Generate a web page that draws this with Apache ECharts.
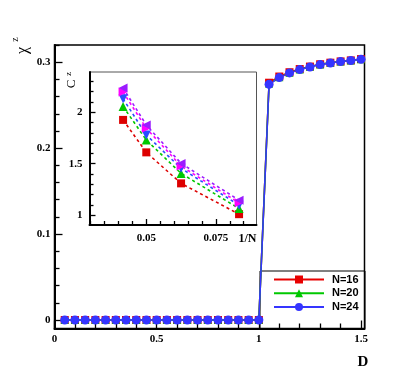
<!DOCTYPE html>
<html><head><meta charset="utf-8">
<script src="https://cdn.jsdelivr.net/npm/echarts@6/dist/echarts.min.js"></script>
<style>html,body{margin:0;padding:0;background:#fff}#c{width:415px;height:370px}</style>
</head><body><div id="c"></div>
<script>
// ---- main chart data ----
const D = [0.05,0.1,0.15,0.2,0.25,0.3,0.35,0.4,0.45,0.5,0.55,0.6,0.65,0.7,0.75,0.8,0.85,0.9,0.95,1.0,
           1.05,1.1,1.15,1.2,1.25,1.3,1.35,1.4,1.45,1.5];
const chiN16 = [0,0,0,0,0,0,0,0,0,0,0,0,0,0,0,0,0,0,0,0,
                0.2762,0.2834,0.2884,0.2921,0.2950,0.2977,0.2995,0.3010,0.3022,0.3037];
const chiN20 = [0,0,0,0,0,0,0,0,0,0,0,0,0,0,0,0,0,0,0,0,
                0.2750,0.2826,0.2879,0.2917,0.2947,0.2975,0.2993,0.3009,0.3021,0.3036];
const chiN24 = [0,0,0,0,0,0,0,0,0,0,0,0,0,0,0,0,0,0,0,0,
                0.2744,0.2822,0.2876,0.2915,0.2945,0.2973,0.2992,0.3008,0.3020,0.3035];
const seriesNames = ['N=16','N=20','N=24'];

// ---- inset data ----
const invN = [0.041667, 0.05, 0.0625, 0.083333];
const cRed     = [1.925, 1.610, 1.309, 1.010];
const cGreen   = [2.055, 1.730, 1.406, 1.065];
const cBlue    = [2.130, 1.779, 1.455, 1.097];
const cMagenta = [2.195, 1.844, 1.477, 1.120];
const cPurple  = [2.234, 1.876, 1.503, 1.146];

// ---- ticks ----
const mainXTicks = [0, 0.5, 1, 1.5];
const mainYTicks = [0, 0.1, 0.2, 0.3];
const insetXTicks = [0.05, 0.075];
const insetYTicks = [1, 1.5, 2];

function steps(a, b, step, exclude) {
  const out = []; const n = Math.round((b - a) / step);
  for (let i = 0; i <= n; i++) {
    const v = +(a + i * step).toFixed(6);
    if (!exclude.some(e => Math.abs(e - v) < 1e-9)) out.push(v);
  }
  return out;
}
const mainXMinor = steps(0, 1.5, 0.1, mainXTicks);
const mainYMinor = steps(0, 0.32, 0.02, mainYTicks);
const insetXMinor = steps(0.03, 0.085, 0.005, insetXTicks);
const insetYMinor = steps(1, 2.3, 0.1, insetYTicks);

const pairs = (xs, ys) => xs.map((x, i) => [x, ys[i]]);

const labelFont = {color:'#000', fontFamily:'"Liberation Serif", serif', fontWeight:'bold', fontSize:11};

function axis(gridIndex, min, max, pos, ticks, tickLen, lineW, showLabel, labelMargin, minor) {
  return {
    type:'value', gridIndex, min, max, position:pos,
    axisLine:{show:!minor, onZero:false, lineStyle:{color:'#000', width:lineW}},
    axisTick:{show:true, inside:true, length:tickLen, customValues:ticks,
              lineStyle:{color:'#000', width:1.3}},
    axisLabel:{show:showLabel, customValues:ticks, margin:labelMargin, ...labelFont},
    splitLine:{show:false}, minorTick:{show:false}
  };
}

const chart = echarts.init(document.getElementById('c'), null, {renderer:'canvas'});

const mainColors = ['#e80000', '#00c800', '#3535ff'];
const mainSymbols = ['rect', 'triangle', 'circle'];
const mainSizes = [8, 8, 9];
const mainData = [chiN16, chiN20, chiN24];

const series = mainData.map((ys, i) => ({
  name: seriesNames[i], type:'line', xAxisIndex:0, yAxisIndex:0,
  data: pairs(D, ys), symbol: mainSymbols[i], symbolSize: mainSizes[i],
  showAllSymbol:true,
  lineStyle:{color:mainColors[i], width:1.6},
  itemStyle:{color:mainColors[i]},
  emphasis:{disabled:true}, animation:false
}));

const insetColors = ['#dd0000', '#00c800', '#2a4dff', '#ff00ff', '#9b1cff'];
const insetSymbols = ['rect', 'triangle', 'triangle', 'triangle', 'triangle'];
const insetRot = [0, 0, 180, -90, 90];
const insetData = [cRed, cGreen, cBlue, cMagenta, cPurple];
insetData.forEach((ys, i) => {
  series.push({
    name: 'C' + (i + 1), type:'line', xAxisIndex:2, yAxisIndex:2,
    data: pairs(invN, ys), symbol: insetSymbols[i], symbolSize: i === 0 ? 8 : 9,
    symbolRotate: insetRot[i],
    lineStyle:{color:insetColors[i], width:1.6, type:[3,3]},
    itemStyle:{color:insetColors[i]},
    emphasis:{disabled:true}, animation:false
  });
});

chart.setOption({
  animation:false,
  backgroundColor:'#fff',
  grid:[
    {left:54.5, top:45, width:310, height:283.5, show:true, borderColor:'#000', borderWidth:1.5, backgroundColor:'transparent'},
    {left:89.5, top:72, width:167, height:153, show:true, borderColor:'#555', borderWidth:1, backgroundColor:'#fff'}
  ],
  xAxis:[
    axis(0, 0, 1.517, 'bottom', mainXTicks, 8, 2, true, 5, false),
    axis(0, 0, 1.517, 'bottom', mainXMinor, 5, 2, false, 5, true),
    axis(1, 0.0296, 0.0896, 'bottom', insetXTicks, 6, 2, true, 8, false),
    axis(1, 0.0296, 0.0896, 'bottom', insetXMinor, 4, 2, false, 8, true)
  ],
  yAxis:[
    axis(0, -0.0099, 0.3201, 'left', mainYTicks, 8, 2, true, 4, false),
    axis(0, -0.0099, 0.3201, 'left', mainYMinor, 5, 2, false, 4, true),
    axis(1, 0.905, 2.39, 'left', insetYTicks, 6, 2, true, 7, false),
    axis(1, 0.905, 2.39, 'left', insetYMinor, 4, 2, false, 7, true)
  ],
  legend:{
    data: seriesNames, orient:'vertical', left:273, top:274,
    itemWidth:50, itemHeight:10, itemGap:2.7, padding:0,
    textStyle:{fontFamily:'"Liberation Sans", Arial, sans-serif', fontWeight:'bold', fontSize:11, color:'#000', lineHeight:10, padding:[0,0,0,3]},
    selectedMode:false
  },
  graphic:[
    {type:'rect', shape:{x:260, y:271, width:105, height:57.5}, style:{fill:null, stroke:'#000', lineWidth:1}, silent:true, z:-1},
    {type:'text', x:23, y:50.5, rotation:Math.PI/2, style:{text:'χ', font:'16px "Liberation Serif", serif', fill:'#000', align:'center', verticalAlign:'middle', textAlign:'center', textVerticalAlign:'middle'}},
    {type:'text', x:15, y:39.5, rotation:Math.PI/2, style:{text:'z', font:'10px "Liberation Serif", serif', fill:'#000', align:'center', verticalAlign:'middle', textAlign:'center', textVerticalAlign:'middle'}},
    {type:'text', x:71.5, y:84, rotation:Math.PI/2, style:{text:'C', font:'13px "Liberation Serif", serif', fill:'#000', align:'center', verticalAlign:'middle', textAlign:'center', textVerticalAlign:'middle'}},
    {type:'text', x:69, y:74, rotation:Math.PI/2, style:{text:'z', font:'9px "Liberation Serif", serif', fill:'#000', align:'center', verticalAlign:'middle', textAlign:'center', textVerticalAlign:'middle'}},
    {type:'text', x:363, y:362, style:{text:'D', font:'bold 15px "Liberation Serif", serif', fill:'#000', align:'center', verticalAlign:'middle', textAlign:'center', textVerticalAlign:'middle'}},
    {type:'text', x:247.5, y:239, style:{text:'1/N', font:'bold 12px "Liberation Serif", serif', fill:'#000', align:'center', verticalAlign:'middle', textAlign:'center', textVerticalAlign:'middle'}}
  ],
  series
});
</script></body></html>
